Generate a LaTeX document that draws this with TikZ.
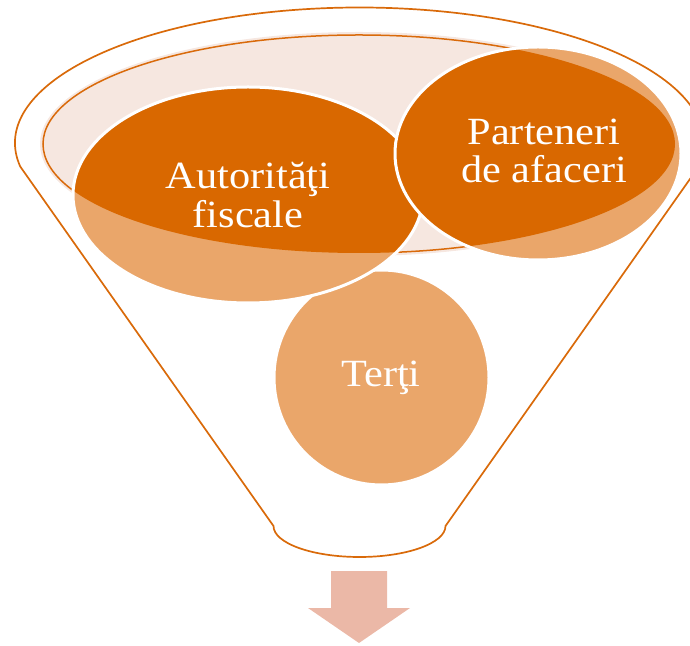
\documentclass[tikz,border=0pt]{standalone}
\usepackage{fontspec}
\newfontfamily\lbs[FakeStretch=1.1]{Liberation Serif}
\definecolor{darkor}{HTML}{D96800}
\definecolor{lightor}{HTML}{EAA66A}
\definecolor{paleor}{HTML}{F6E7E0}
\definecolor{lineor}{HTML}{D96A0A}
\definecolor{arrowpink}{HTML}{EBB8A7}
\tikzset{
  funnelline/.style={draw=lineor, line width=1.7pt},
  whiteborder/.style={draw=white, line width=3pt},
  lbl/.style={text=white, inner sep=0pt, align=center, font=\lbs\fontsize{38.5}{39}\selectfont}
}
\begin{document}
\begin{tikzpicture}[x=1pt,y=1pt]
\useasboundingbox (0,0) rectangle (690,645);
\clip (0,0) rectangle (690,645);
% funnel outline
\draw[funnelline] (20.23,478.47) arc[start angle=190, end angle=-10, x radius=344.5, y radius=135.5]
  -- (445.5,119) arc[start angle=0, end angle=-180, x radius=86, y radius=31] -- cycle;
% inner pale ellipse
\fill[paleor] (359,501) ellipse[x radius=319, y radius=112];
\draw[funnelline, line width=1.5pt] (359,501) ellipse[x radius=316, y radius=109];
% Terti
\fill[lightor] (381.5,267.5) circle[radius=107.5];
\draw[whiteborder] (381.5,267.5) circle[radius=107.5];
% Autoritati
\fill[lightor] (248,450) ellipse[x radius=175, y radius=108];
\begin{scope}
  \clip (359,501) ellipse[x radius=316, y radius=109];
  \fill[darkor] (248,450) ellipse[x radius=175, y radius=108];
\end{scope}
\draw[whiteborder] (248,450) ellipse[x radius=175, y radius=108];
% Parteneri
\fill[lightor] (538,491.5) ellipse[x radius=143, y radius=106.5];
\begin{scope}
  \clip (359,501) ellipse[x radius=316, y radius=109];
  \fill[darkor] (538,491.5) ellipse[x radius=143, y radius=106.5];
\end{scope}
\draw[whiteborder] (538,491.5) ellipse[x radius=143, y radius=106.5];
% labels
\node[lbl] (autoritati) at (248,450) {Autorităţi\\fiscale};
\node[lbl, font=\lbs\fontsize{38.5}{38}\selectfont] (parteneri) at (544,494) {Parteneri\\de afaceri};
\node[lbl, anchor=base] (terti) at (381,258) {Terţi};
% arrow
\fill[arrowpink] (331,74) -- (387,74) -- (387,37) -- (410,37) -- (359,2) -- (308,37) -- (331,37) -- cycle;
\end{tikzpicture}
\end{document}
